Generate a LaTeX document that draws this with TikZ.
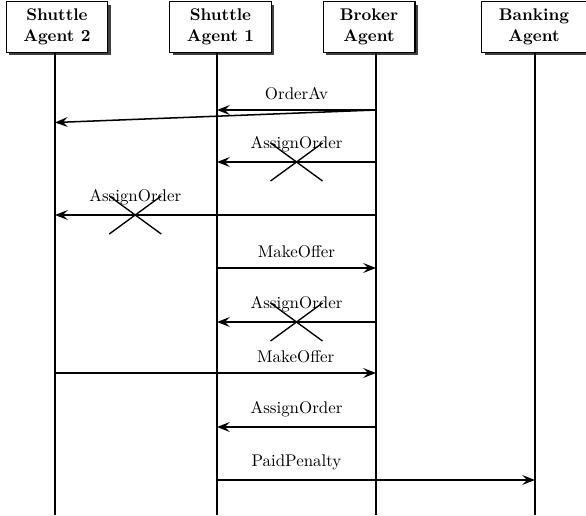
\documentclass[tikz,border=0pt]{standalone}
\usetikzlibrary{arrows.meta,shadows}
\begin{document}
\begin{tikzpicture}[x=0.5917pt, y=-0.5917pt,
  agent/.style={draw, line width=0.6pt, fill=white, align=center, font=\bfseries,
    inner xsep=10pt, minimum height=30pt, anchor=north,
    drop shadow={shadow xshift=1.8pt, shadow yshift=-1.8pt, fill=black!75, opacity=1}},
  lifeline/.style={line width=0.7pt},
  msg/.style={line width=0.9pt, -{Stealth[length=7.5pt, width=5.8pt, inset=2.8pt]}},
  msglabel/.style={above, inner sep=5.5pt},
  veto/.style={line width=0.8pt}]

\useasboundingbox (0,0) rectangle (586,515);

% agents
\node[agent] (sa2) at (57,1)    {Shuttle\\Agent 2};
\node[agent] (sa1) at (220.5,1) {Shuttle\\Agent 1};
\node[agent] (bro) at (369,1)   {Broker\\Agent};
\node[agent] (bnk) at (534,1)   {Banking\\Agent};

% lifelines
\coordinate (sa2end) at (55,515);
\coordinate (sa1end) at (217,515);
\coordinate (broend) at (376,515);
\coordinate (bnkend) at (535,515);
\draw[lifeline] (sa2.south -| sa2end) -- (sa2end);
\draw[lifeline] (sa1.south -| sa1end) -- (sa1end);
\draw[lifeline] (bro.south -| broend) -- (broend);
\draw[lifeline] (bnk.south -| bnkend) -- (bnkend);

% message end points
\coordinate (b1)  at (376,110);
\coordinate (s1a) at (217,110);
\coordinate (s2a) at (55,122.5);
\coordinate (b2)  at (376,162);
\coordinate (s1b) at (217,162);
\coordinate (b3)  at (376,215);
\coordinate (s2b) at (55,215);
\coordinate (s1c) at (217,268);
\coordinate (b4)  at (376,268);
\coordinate (b5)  at (376,322);
\coordinate (s1d) at (217,322);
\coordinate (s2c) at (55,373);
\coordinate (b6)  at (376,373);
\coordinate (b7)  at (376,427);
\coordinate (s1e) at (217,427);
\coordinate (s1f) at (217,480);
\coordinate (k1)  at (535,480);

% messages
\draw[msg] (b1) -- (s1a) node[msglabel, midway] {OrderAv};
\draw[msg] (b1) -- (s2a);
\draw[msg] (b2) -- (s1b) node[msglabel, midway] {AssignOrder} coordinate[midway] (x1);
\draw[msg] (b3) -- (s2b) node[msglabel, pos=0.75] {AssignOrder} coordinate[pos=0.75] (x2);
\draw[msg] (s1c) -- (b4) node[msglabel, midway] {MakeOffer};
\draw[msg] (b5) -- (s1d) node[msglabel, midway] {AssignOrder} coordinate[midway] (x3);
\draw[msg] (s2c) -- (b6) node[msglabel, pos=0.75] {MakeOffer};
\draw[msg] (b7) -- (s1e) node[msglabel, midway] {AssignOrder};
\draw[msg] (s1f) -- (k1) node[msglabel, pos=0.25] {PaidPenalty};

% rejected messages
\foreach \c in {x1,x2,x3} {
  \draw[veto] (\c) ++(-26,-19) -- ++(52,38);
  \draw[veto] (\c) ++(26,-19) -- ++(-52,38);
}
\end{tikzpicture}
\end{document}
